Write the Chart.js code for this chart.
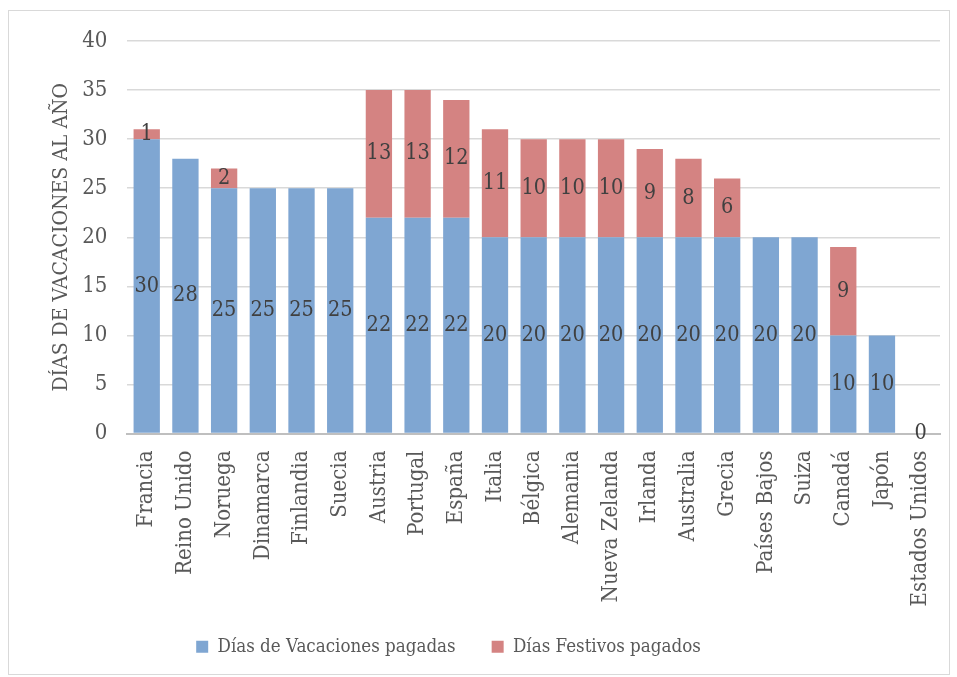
<!DOCTYPE html>
<html><head><meta charset="utf-8">
<script src="https://cdn.jsdelivr.net/npm/chart.js@4/dist/chart.umd.min.js"></script>
<style>html,body{margin:0;padding:0;background:#fff}#w{width:957px;height:677px;position:relative}</style>
</head><body><div id="w"><canvas id="c"></canvas></div>
<script>
const categories = ["Francia","Reino Unido","Noruega","Dinamarca","Finlandia","Suecia","Austria","Portugal","España","Italia","Bélgica","Alemania","Nueva Zelanda","Irlanda","Australia","Grecia","Países Bajos","Suiza","Canadá","Japón","Estados Unidos"];
const vacaciones = [30,28,25,25,25,25,22,22,22,20,20,20,20,20,20,20,20,20,10,10,0];
const festivos = [1,null,2,null,null,null,13,13,12,11,10,10,10,9,8,6,null,null,9,null,null];
const yTicks = [0,5,10,15,20,25,30,35,40];

const FONT = "'DejaVu Serif Condensed','DejaVu Serif',serif";
const TXT = '#595959';

const labelsPlugin = {
  id: 'segLabels',
  afterDatasetsDraw(chart) {
    const ctx = chart.ctx;
    ctx.save();
    ctx.font = '21.5px ' + FONT;
    ctx.fillStyle = '#404040';
    ctx.textAlign = 'center';
    ctx.textBaseline = 'middle';
    chart.data.datasets.forEach((ds, di) => {
      const meta = chart.getDatasetMeta(di);
      meta.data.forEach((el, i) => {
        const v = ds.data[i];
        if (v === null || v === undefined) return;
        ctx.fillText(String(v), el.x, (el.y + el.base) / 2);
      });
    });
    ctx.restore();
  }
};
const borderPlugin = {
  id: 'outerBorder',
  beforeDraw(chart) {
    const ctx = chart.ctx;
    ctx.save();
    ctx.strokeStyle = '#d9d9d9';
    ctx.lineWidth = 1;
    ctx.strokeRect(8.5, 10.5, 941, 664);
    ctx.restore();
  }
};
const legendShift = {
  id: 'legendShift',
  afterLayout(chart) {
    const lg = chart.legend;
    if (!lg) return;
    const dx = -44, dy = -22;
    lg.left += dx; lg.right += dx;
    lg.top += dy; lg.bottom += dy;
  }
};

new Chart(document.getElementById('c'), {
  type: 'bar',
  data: {
    labels: categories,
    datasets: [
      { label: 'Días de Vacaciones pagadas', data: vacaciones, backgroundColor: '#7FA6D2', borderWidth: 0, barPercentage: 0.68, categoryPercentage: 1 },
      { label: 'Días Festivos pagados', data: festivos, backgroundColor: '#D48382', borderWidth: 0, barPercentage: 0.68, categoryPercentage: 1 }
    ]
  },
  options: {
    responsive: true,
    maintainAspectRatio: false,
    animation: false,
    layout: { padding: { left: 45, right: 17, top: 41, bottom: -11 } },
    plugins: {
      legend: {
        position: 'bottom',
        labels: { font: { family: FONT, size: 18.6 }, color: TXT, boxWidth: 12, boxHeight: 12, padding: 36 }
      },
      tooltip: { enabled: false }
    },
    scales: {
      x: {
        stacked: true,
        afterFit(scale) { scale.paddingRight = 0; },
        grid: { display: false, drawTicks: false },
        border: { color: '#bfbfbf', width: 2 },
        ticks: { color: TXT, font: { family: FONT, size: 22 }, minRotation: 90, maxRotation: 90, autoSkip: false, padding: 17 }
      },
      y: {
        stacked: true,
        min: 0, max: 40,
        afterBuildTicks(axis) { axis.ticks = yTicks.map(v => ({ value: v })); },
        grid: { color: '#d9d9d9', lineWidth: 1.5, drawTicks: false },
        border: { display: false },
        ticks: { color: TXT, font: { family: FONT, size: 22 }, padding: 20 },
        title: { display: true, text: 'DÍAS DE VACACIONES AL AÑO', color: TXT, font: { family: FONT, size: 21 }, padding: { top: 4, bottom: -12 } }
      }
    }
  },
  plugins: [labelsPlugin, borderPlugin, legendShift]
});
</script></body></html>
